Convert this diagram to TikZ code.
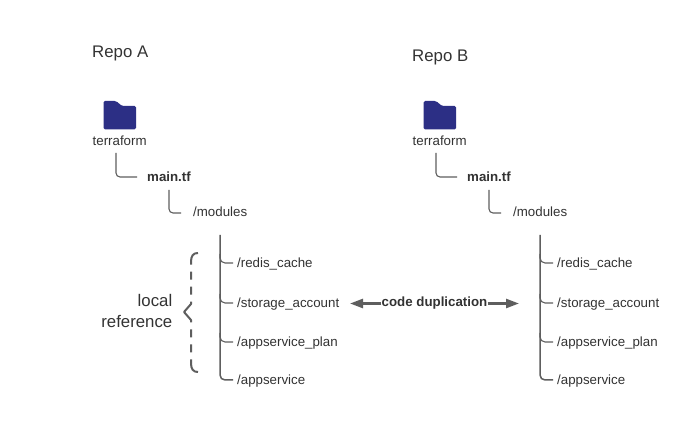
\documentclass[tikz,border=0pt]{standalone}
\usepackage{fontspec}
\setmainfont{Liberation Sans}
\usetikzlibrary{arrows.meta}
\definecolor{linegray}{HTML}{5E5E5E}
\definecolor{textgray}{HTML}{333333}
\definecolor{folderblue}{HTML}{2C2F85}
\tikzset{
  label13/.style={anchor=west,inner sep=0pt,text=textgray,font=\fontsize{13.3}{15}\selectfont,text height=9.5pt,text depth=3pt},
  boldlabel/.style={label13,font=\fontsize{13.3}{15}\selectfont\bfseries},
  heading/.style={anchor=west,inner sep=0pt,text=textgray,font=\fontsize{16.8}{20}\selectfont,text height=12pt,text depth=4pt},
  elbow/.style={draw=linegray,line width=1.1pt,rounded corners=4pt},
  trunk/.style={draw=linegray,line width=1.5pt},
  branch/.style={draw=linegray,line width=1.1pt,rounded corners=5pt},
  bracket/.style={draw=linegray,line width=2pt,dash pattern=on 13pt off 7pt on 8pt off 7pt on 8pt off 7pt on 40pt,line join=round},
  dupline/.style={draw=linegray,line width=2.4pt},
}
\newcommand{\repotree}[2]{%
  \begin{scope}[xshift=#1pt,name prefix=#2-]
    \fill[folderblue,rounded corners=1.5pt] (103.5,129.5) -- (103.5,101) -- (116,101) -- (122,106) -- (136,106) -- (136,129.5) -- cycle;
    \node[label13] (term) at (92.5,142.5) {terraform};
    \node[boldlabel] (main) at (147,178) {main.tf};
    \node[label13] (mods) at (193,213) {/modules};
    \node[label13] (redis) at (237,264.5) {/redis\_cache};
    \node[label13] (stor) at (237,304.5) {/storage\_account};
    \node[label13] (plan) at (237,343.5) {/appservice\_plan};
    \node[label13] (apps) at (237,381.5) {/appservice};
    \coordinate (t1) at (116,153);
    \coordinate (m1) at (169,190);
    \coordinate (top) at (220,235);
    \path[elbow] (t1) |- (137,177);
    \path[elbow] (m1) |- (181,213);
    \path[trunk,rounded corners=5pt] (top) |- (233,380);
    \path[branch] (220,254) |- (233,263);
    \path[branch] (220,294) |- (233,303);
    \path[branch] (220,333) |- (233,342);
  \end{scope}
}
\begin{document}
\begin{tikzpicture}[x=1pt,y=-1pt]
  \useasboundingbox (0,0) rectangle (699,435);
  \fill[white] (0,0) rectangle (699,435);
  \node[heading] (repoA) at (92,53.5) {Repo A};
  \node[heading] (repoB) at (412,57.5) {Repo B};
  \repotree{0}{a}
  \repotree{320}{b}
  % local reference
  \node[heading,anchor=east,align=right,text height=,text depth=,font=\fontsize{16.8}{20.5}\selectfont] (localref) at (172.5,311) {local\\reference};
  \coordinate (brTop) at (198,253);
  \coordinate (brTip) at (184,312);
  \coordinate (brBot) at (198,372);
  \path[bracket] (brTip) -- (191,304) -- (191,262) .. controls (191,256) and (193,253) .. (brTop);
  \path[bracket] (brTip) -- (191,320) -- (191,363) .. controls (191,369) and (193,372) .. (brBot);
  % duplication arrow
  \node[boldlabel,anchor=center] (dup) at (434.5,303.5) {code duplication};
  \coordinate (dupL) at (350,303.5);
  \coordinate (dupR) at (519,303.5);
  \path[dupline,-{Triangle[length=13pt,width=9pt]}] (dup.west |- dupL) -- (dupL);
  \path[dupline,-{Triangle[length=13pt,width=9pt]}] (dup.east |- dupR) -- (dupR);
\end{tikzpicture}
\end{document}
